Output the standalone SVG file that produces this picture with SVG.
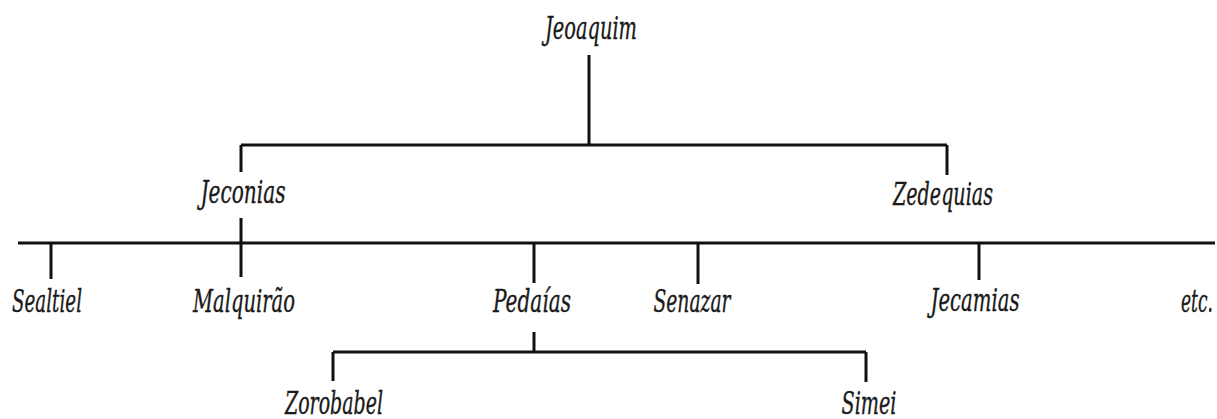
<svg xmlns="http://www.w3.org/2000/svg" width="1217" height="419" viewBox="0 0 1217 419">
<style>
.lbl{font-family:"DejaVu Serif","Liberation Serif",serif;font-style:italic;font-size:31px;fill:#1a1a1a;stroke:#1a1a1a;stroke-width:0.4;text-anchor:middle}
.ln{stroke:#111;stroke-width:3;fill:none;stroke-linecap:butt}
</style>
<rect width="1217" height="419" fill="#fff"/>
<g id="connectors">
<path class="ln" d="M589 55V145M241 145H947M241 145V172M947 145V175"/>
<path class="ln" d="M18 243H1215"/>
<path class="ln" d="M241 218V277M51 243V279M534 243V283M698 243V284M979 243V280"/>
<path class="ln" d="M534 332V352M333 352H866M333 352V381M866 352V382"/>
</g>
<g id="jeoaquim"><text class="lbl" x="591" y="39" textLength="92" lengthAdjust="spacingAndGlyphs">Jeoaquim</text></g>
<g id="jeconias"><text class="lbl" x="243" y="203" textLength="85" lengthAdjust="spacingAndGlyphs">Jeconias</text></g>
<g id="zedequias"><text class="lbl" x="943" y="205" textLength="100" lengthAdjust="spacingAndGlyphs">Zedequias</text></g>
<g id="sealtiel"><text class="lbl" x="47" y="312" textLength="70" lengthAdjust="spacingAndGlyphs">Sealtiel</text></g>
<g id="malquirao"><text class="lbl" x="244" y="312" textLength="102" lengthAdjust="spacingAndGlyphs">Malquirão</text></g>
<g id="pedaias"><text class="lbl" x="532" y="312" textLength="78" lengthAdjust="spacingAndGlyphs">Pedaías</text></g>
<g id="senazar"><text class="lbl" x="692" y="312" textLength="77" lengthAdjust="spacingAndGlyphs">Senazar</text></g>
<g id="jecamias"><text class="lbl" x="975" y="311" textLength="89" lengthAdjust="spacingAndGlyphs">Jecamias</text></g>
<g id="etc"><text class="lbl" x="1197" y="312" textLength="32" lengthAdjust="spacingAndGlyphs">etc.</text></g>
<g id="zorobabel"><text class="lbl" x="334" y="414" textLength="98" lengthAdjust="spacingAndGlyphs">Zorobabel</text></g>
<g id="simei"><text class="lbl" x="869" y="414" textLength="55" lengthAdjust="spacingAndGlyphs">Simei</text></g>
</svg>
